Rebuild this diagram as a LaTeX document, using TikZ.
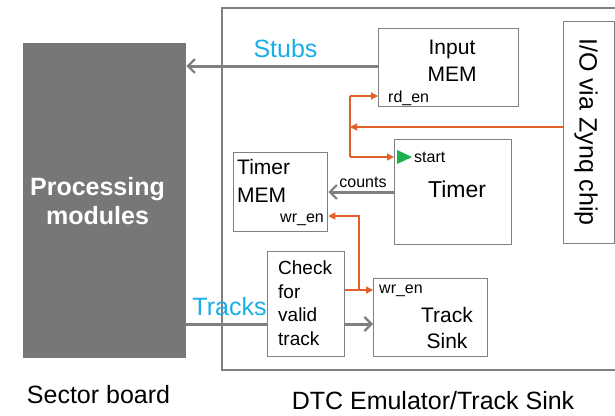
\documentclass[tikz,border=0pt]{standalone}
\usepackage{fontspec}
\setmainfont{Liberation Sans}
\usetikzlibrary{arrows.meta,positioning}
\definecolor{boxgray}{HTML}{7F7F7F}
\definecolor{pmgray}{HTML}{777777}
\definecolor{sigorange}{HTML}{E0602A}
\definecolor{busblue}{HTML}{1AADE6}
\definecolor{startgreen}{HTML}{1DB04B}
\newcommand{\captxt}{\fontsize{25}{29}\selectfont}
\newcommand{\boxtxt}{\fontsize{21}{27}\selectfont}
\newcommand{\pintxt}{\fontsize{16}{18}\selectfont}
\begin{document}
\begin{tikzpicture}[x=1pt,y=-1pt,
  box/.style={draw=boxgray, line width=1.3pt, fill=white, inner sep=0pt, anchor=north west},
  bus/.style={draw=boxgray, line width=3pt, -{Straight Barb[length=7pt,width=14pt,line width=2.2pt]}},
  sig/.style={draw=sigorange, line width=1.2pt, -{Triangle[length=7pt,width=7pt]}},
  lbl/.style={font=\boxtxt, align=left, inner sep=0pt},
  pin/.style={font=\pintxt, inner sep=0pt, anchor=base west}]
\useasboundingbox (0,0) rectangle (615,415);

% sector board
\node[fill=pmgray, minimum width=163pt, minimum height=315pt, anchor=north west] (pm) at (23,43) {};
\node[text=white, font=\fontsize{25}{29}\selectfont\bfseries, align=center, inner sep=0pt,
  anchor=north] at (97.5,177) {Processing\\modules};
\node[font=\captxt, inner sep=0pt, anchor=base] (sector) at (98.5,403) {Sector board};

% emulator frame (right side runs off the page)
\draw[boxgray, line width=1.3pt] (630,8) -- (222,8) -- (222,370) -- (630,370);
\node[font=\captxt, inner sep=0pt, anchor=base] (dtc) at (433,409) {DTC Emulator/Track Sink};

% blocks
\node[box, minimum width=140pt, minimum height=78pt] (inmem) at (378,28) {};
\node[lbl, align=center, anchor=north] at (452,40) {Input\\MEM};
\node[pin] (rden) at (388,102) {rd\_en};

\node[box, minimum width=51pt, minimum height=222pt] (io) at (563,21) {};
\node[font=\captxt, rotate=-90, inner sep=0pt] at (586,132) {I/O via Zynq chip};

\node[box, minimum width=117pt, minimum height=105pt] (timer) at (394,139) {};
\node[font=\fontsize{23}{27}\selectfont, inner sep=0pt, anchor=base] at (457,197) {Timer};
\fill[startgreen] (397,150) -- (412,157) -- (397,164) -- cycle;
\node[pin] (start) at (414,162) {start};

\node[box, minimum width=94pt, minimum height=79pt] (tmem) at (233,152) {};
\node[lbl, anchor=north west, font=\fontsize{21}{28}\selectfont] at (237,159) {Timer\\MEM};
\node[pin, anchor=base east] (tmwr) at (324,222) {wr\_en};

\node[box, minimum width=77pt, minimum height=105pt] (check) at (267,251) {};
\node[lbl, anchor=north west, font=\fontsize{19}{23.5}\selectfont] at (278,261) {Check\\for\\valid\\track};

\node[box, minimum width=114pt, minimum height=78pt] (sink) at (373,278) {};
\node[pin] (tswr) at (379,293) {wr\_en};
\node[lbl, align=center, anchor=north, font=\fontsize{21}{26}\selectfont] at (447,307) {Track\\Sink};

% data buses
\draw[bus] (inmem.west |- 0,66) -- (pm.east |- 0,66);
\node[font=\captxt, text=busblue, inner sep=0pt, anchor=base] (stubs) at (285.5,57) {Stubs};
\draw[bus] (timer.west |- 0,192) -- (tmem.east |- 0,192);
\node[pin, anchor=base] (counts) at (363,187) {counts};
\draw[boxgray, line width=3pt] (pm.east |- 0,324) -- (check.west |- 0,324);
\node[font=\captxt, text=busblue, inner sep=0pt, anchor=base] (tracks) at (229.5,315) {Tracks};
\draw[bus] (check.east |- 0,324) -- (sink.west |- 0,324);

% control signals
\coordinate (iojoin) at (350,127);
\draw[sig] (io.west |- iojoin) -- (iojoin);
\draw[sig] (350,96) -- (inmem.west |- 0,96);
\draw[sigorange, line width=1.2pt] (350,96) -- (350,157);
\draw[sig] (350,157) -- (timer.west |- 0,157);
\draw[sig] (check.east |- 0,290) -- (sink.west |- 0,290);
\draw[sig] (359,290) -- (359,216) -- (tmem.east |- 0,216);
\end{tikzpicture}
\end{document}
